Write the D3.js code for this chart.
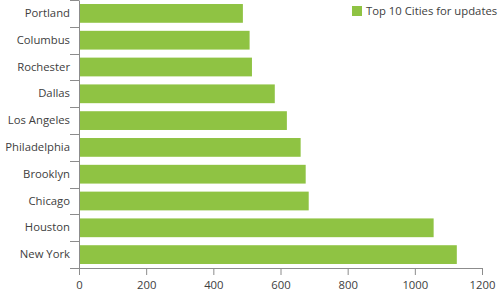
<!DOCTYPE html>
<html>
<head>
<meta charset="utf-8">
<script src="https://cdn.jsdelivr.net/npm/d3@7"></script>
<style>
    body { margin: 0; background: #fff; }
    svg text { font-family: "Segoe UI", "Open Sans", sans-serif; fill: #404040; }
</style>
</head>
<body>
<svg id="chart"></svg>
<script>
// Chart data
const cities = ["Portland", "Columbus", "Rochester", "Dallas", "Los Angeles",
    "Philadelphia", "Brooklyn", "Chicago", "Houston", "New York"];
const updates = [488, 508, 515, 583, 619, 660, 675, 684, 1056, 1125];
const xTicks = [0, 200, 400, 600, 800, 1000, 1200];
const seriesName = "Top 10 Cities for updates";

const data = cities.map((c, i) => ({ city: c, value: updates[i] }));

const W = 500, H = 300;
const margin = { top: 0, right: 18, bottom: 32, left: 79 };
const width = W - margin.left - margin.right;
const height = H - margin.top - margin.bottom;
const green = "#8fc343";
const axisColor = "#8c8c8c";
const fontSize = "11.3px";

const svg = d3.select("#chart")
    .attr("width", W)
    .attr("height", H);

const g = svg.append("g")
    .attr("transform", `translate(${margin.left},${margin.top})`);

const x = d3.scaleLinear()
    .domain([0, 1200])
    .range([0, width]);

const y = d3.scaleBand()
    .domain(cities)
    .range([0, height])
    .paddingInner(0.3)
    .paddingOuter(0.15);

// Bars
g.selectAll("rect.bar")
    .data(data)
    .enter()
    .append("rect")
    .attr("class", "bar")
    .attr("x", 0)
    .attr("y", d => y(d.city))
    .attr("width", d => x(d.value))
    .attr("height", y.bandwidth())
    .attr("fill", green);

// X axis
const xAxis = g.append("g")
    .attr("transform", `translate(0,${height})`)
    .call(d3.axisBottom(x).tickValues(xTicks).tickFormat(d3.format("d"))
        .tickSize(7).tickPadding(6).tickSizeOuter(0));
xAxis.select(".domain").attr("stroke", axisColor);
xAxis.selectAll(".tick line").attr("stroke", axisColor);
xAxis.selectAll("text").style("font-size", fontSize);

// Y axis: labels at band centres, ticks between bands
const yAxis = g.append("g")
    .call(d3.axisLeft(y).tickSize(0).tickPadding(9));
yAxis.select(".domain").attr("stroke", axisColor);
yAxis.selectAll("text").style("font-size", fontSize);

g.append("g")
    .selectAll("line")
    .data(d3.range(cities.length + 1))
    .enter()
    .append("line")
    .attr("x1", -9)
    .attr("x2", 0)
    .attr("y1", i => Math.round(i * y.step()) + 0.5)
    .attr("y2", i => Math.round(i * y.step()) + 0.5)
    .attr("stroke", axisColor);

// Legend
const legend = svg.append("g")
    .attr("transform", "translate(352,6)");
legend.append("rect")
    .attr("width", 10)
    .attr("height", 10)
    .attr("fill", green);
legend.append("text")
    .attr("x", 14)
    .attr("y", 5)
    .attr("dy", "0.35em")
    .style("font-size", fontSize)
    .text(seriesName);
</script>
</body>
</html>
